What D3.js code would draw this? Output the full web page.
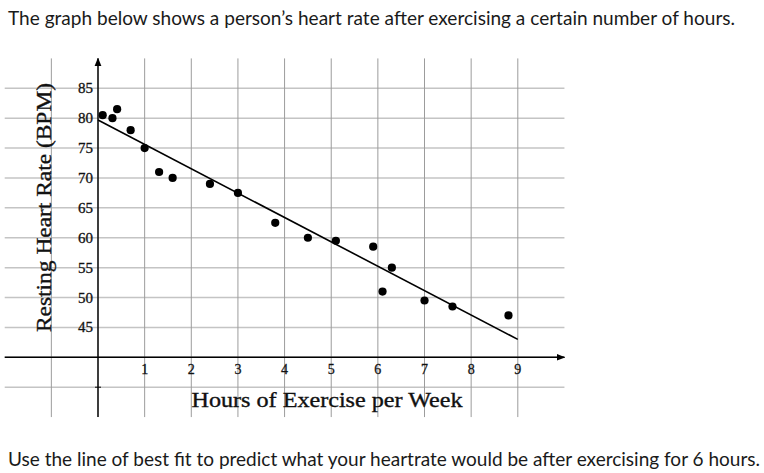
<!DOCTYPE html>
<html>
<head>
<meta charset="utf-8">
<script src="https://cdn.jsdelivr.net/npm/d3@7"></script>
<style>
body { margin:0; background:#fff; }
svg { display:block; }
.serif { font-family:"Liberation Serif","DejaVu Serif",serif; fill:#111; }
.sans { font-family:Lato,"Open Sans",sans-serif; fill:#1a1a1a; }
</style>
</head>
<body>
<svg id="chart" width="764" height="473"></svg>
<script>
// values
var hours = [0.1,0.31,0.41,0.7,1.0,1.31,1.6,2.4,3.0,3.8,4.5,5.1,5.9,6.1,6.3,7.0,7.6,8.8];
var bpm   = [80.5,80,81.5,78,75,71,70,69,67.5,62.5,60,59.5,58.5,51,55,49.5,48.5,47];
var fitX = [0,9], fitY = [79.7,43];
var xTicks = [1,2,3,4,5,6,7,8,9];
var yTicks = [45,50,55,60,65,70,75,80,85];
var xGrid = [-1,0,1,2,3,4,5,6,7,8,9];
var yGrid = [35,40,45,50,55,60,65,70,75,80,85];
var topText = "The graph below shows a person\u2019s heart rate after exercising a certain number of hours.";
var bottomText = "Use the line of best fit to predict what your heartrate would be after exercising for 6 hours.";

var svg = d3.select("#chart");
var x = d3.scaleLinear().domain([0,9]).range([98,517.8]),
    y = d3.scaleLinear().domain([40,85]).range([357.3,88.3]);

var grid = svg.append("g");
grid.selectAll(".h").data(yGrid).enter().append("line")
    .attr("x1",x(-2)).attr("x2",x(10))
    .attr("y1",d=>y(d)).attr("y2",d=>y(d))
    .attr("stroke","#c4c4c4").attr("stroke-width",1.5);
grid.selectAll(".v").data(xGrid).enter().append("line")
    .attr("x1",d=>x(d)).attr("x2",d=>x(d))
    .attr("y1",y(90)).attr("y2",y(30))
    .attr("stroke","#9c9c9c").attr("stroke-width",1);

// axes with arrows
svg.append("defs").append("marker")
    .attr("id","arr").attr("viewBox","0 0 10 10").attr("refX",9).attr("refY",5)
    .attr("markerWidth",6).attr("markerHeight",6).attr("orient","auto")
  .append("path").attr("d","M0,1 L10,5 L0,9 Z").attr("fill","#000");
svg.append("line").attr("x1",x(-2)).attr("x2",x(10)).attr("y1",y(40)).attr("y2",y(40))
    .attr("stroke","#000").attr("stroke-width",1.4).attr("marker-end","url(#arr)");
svg.append("line").attr("x1",x(0)).attr("x2",x(0)).attr("y1",y(30)).attr("y2",y(90))
    .attr("stroke","#000").attr("stroke-width",1.4).attr("marker-end","url(#arr)");
svg.append("line").attr("x1",x(0)-3).attr("x2",x(0)+3).attr("y1",y(35)).attr("y2",y(35))
    .attr("stroke","#000");

svg.selectAll(".yl").data(yTicks).enter().append("text").attr("class","serif")
    .attr("x",x(0)-5).attr("y",d=>y(d)+5)
    .attr("text-anchor","end").attr("font-size",15)
    .attr("stroke","#111").attr("stroke-width",0.3).text(d=>d);
svg.selectAll(".xl").data(xTicks).enter().append("text").attr("class","serif")
    .attr("x",d=>x(d)).attr("y",y(40)+17)
    .attr("text-anchor","middle").attr("font-size",14)
    .attr("stroke","#111").attr("stroke-width",0.3).text(d=>d);

svg.append("text").attr("class","serif").attr("x",191.5).attr("y",406.5)
    .attr("font-size",21).attr("textLength",271).attr("lengthAdjust","spacingAndGlyphs")
    .attr("stroke","#111").attr("stroke-width",0.35)
    .text("Hours of Exercise per Week");
svg.append("text").attr("class","serif")
    .attr("transform","translate(51,332) rotate(-90)")
    .attr("font-size",21).attr("textLength",249).attr("lengthAdjust","spacingAndGlyphs")
    .attr("stroke","#111").attr("stroke-width",0.35)
    .text("Resting Heart Rate (BPM)");

// best fit line
svg.append("line").attr("x1",x(fitX[0])).attr("y1",y(fitY[0]))
    .attr("x2",x(fitX[1])).attr("y2",y(fitY[1]))
    .attr("stroke","#000").attr("stroke-width",1.6);

svg.selectAll(".pt").data(hours).enter().append("circle")
    .attr("cx",d=>x(d)).attr("cy",(d,i)=>y(bpm[i])).attr("r",4.1).attr("fill","#000");

svg.append("text").attr("class","sans").attr("x",8).attr("y",25)
    .attr("font-size",19).attr("textLength",727).attr("lengthAdjust","spacingAndGlyphs")
    .text(topText);
svg.append("text").attr("class","sans").attr("x",8).attr("y",466)
    .attr("font-size",19).attr("textLength",752).attr("lengthAdjust","spacingAndGlyphs")
    .text(bottomText);
</script>
</body>
</html>
